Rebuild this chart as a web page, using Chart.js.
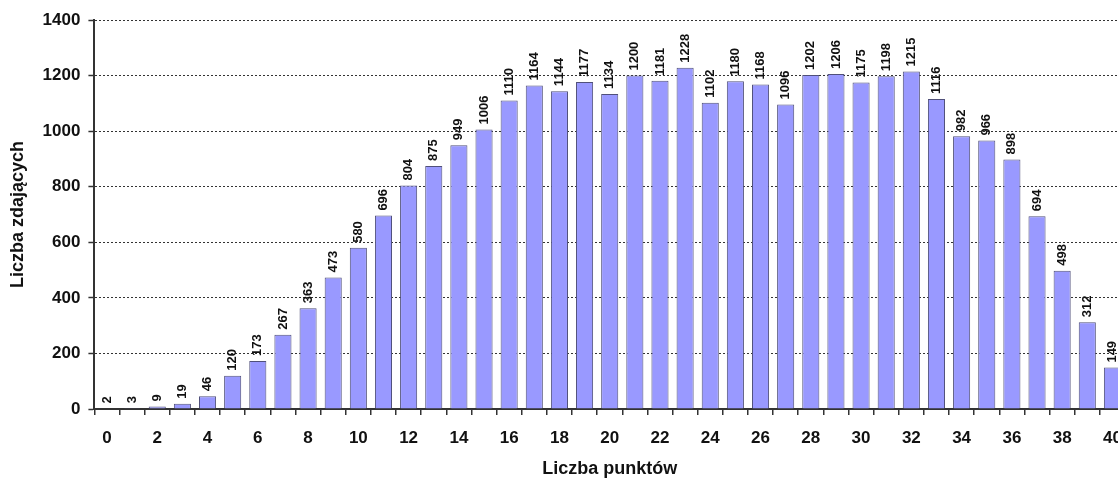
<!DOCTYPE html>
<html>
<head>
<meta charset="utf-8">
<script src="https://cdn.jsdelivr.net/npm/chart.js@4/dist/chart.umd.min.js"></script>
<style>
  html, body { margin: 0; padding: 0; background: #fff; overflow: hidden; }
  /* the canvas is slightly wider than the page, so the last column is cut at the edge */
  #wrap { width: 1127px; height: 480px; }
</style>
</head>
<body>
<div id="wrap"><canvas id="c" width="1127" height="480"></canvas></div>
<script>
// Liczba punktów (0–40)
const points = [0,1,2,3,4,5,6,7,8,9,10,11,12,13,14,15,16,17,18,19,20,
                21,22,23,24,25,26,27,28,29,30,31,32,33,34,35,36,37,38,39,40];
// Liczba zdających dla każdego wyniku
const students = [2,3,9,19,46,120,173,267,363,473,580,696,804,875,949,1006,
                  1110,1164,1144,1177,1134,1200,1181,1228,1102,1180,1168,1096,
                  1202,1206,1175,1198,1215,1116,982,966,898,694,498,312,149];
const yTicks = [0,200,400,600,800,1000,1200,1400];

const FONT = '"Liberation Sans", Arial, sans-serif';

// Rotated value labels above each bar
const barValueLabels = {
  id: 'barValueLabels',
  afterDatasetsDraw(chart) {
    const ctx = chart.ctx;
    const meta = chart.getDatasetMeta(0);
    ctx.save();
    ctx.font = 'bold 13px ' + FONT;
    ctx.fillStyle = '#111';
    ctx.textAlign = 'left';
    ctx.textBaseline = 'middle';
    meta.data.forEach((bar, i) => {
      ctx.save();
      ctx.translate(bar.x, bar.y - 5);
      ctx.rotate(-Math.PI / 2);
      ctx.fillText(String(students[i]), 0, 0);
      ctx.restore();
    });
    ctx.restore();
  }
};

new Chart(document.getElementById('c'), {
  type: 'bar',
  data: {
    labels: points,
    datasets: [{
      data: students,
      backgroundColor: '#9999ff',
      borderColor: '#50507a',
      borderWidth: 1,
      barPercentage: 0.68,
      categoryPercentage: 1.0
    }]
  },
  options: {
    responsive: false,
    animation: false,
    layout: { padding: { top: 20, right: 2, bottom: 0, left: 0 } },
    plugins: {
      legend: { display: false },
      tooltip: { enabled: false }
    },
    scales: {
      x: {
        offset: true,
        afterFit: (scale) => { scale.paddingLeft = 0; scale.paddingRight = 0; },
        grid: {
          offset: true,
          drawOnChartArea: false,
          drawTicks: true,
          tickLength: 6,
          color: '#333',
          lineWidth: 1.5
        },
        border: { display: true, color: '#333', width: 2 },
        ticks: {
          autoSkip: false,
          maxRotation: 0,
          padding: 13,
          color: '#111',
          font: { family: FONT, size: 17, weight: 'bold' },
          callback: (v, i) => (points[i] % 2 === 0 ? String(points[i]) : '')
        },
        title: {
          display: true,
          text: 'Liczba punktów',
          color: '#111',
          font: { family: FONT, size: 18, weight: 'bold' },
          padding: { top: -3, bottom: 0 }
        }
      },
      y: {
        min: 0,
        max: 1400,
        afterBuildTicks: (scale) => { scale.ticks = yTicks.map(v => ({ value: v })); },
        grid: {
          color: '#333',
          lineWidth: 1,
          tickLength: 6,
          tickColor: '#333',
          tickWidth: 1.5
        },
        border: { display: true, color: '#333', width: 2, dash: [2, 2] },
        ticks: {
          padding: 8,
          color: '#111',
          font: { family: FONT, size: 17, weight: 'bold' },
          callback: (v) => String(v)
        },
        title: {
          display: true,
          text: 'Liczba zdających',
          color: '#111',
          font: { family: FONT, size: 18, weight: 'bold' },
          padding: { top: 7, bottom: 6 }
        }
      }
    }
  },
  plugins: [barValueLabels]
});
</script>
</body>
</html>
